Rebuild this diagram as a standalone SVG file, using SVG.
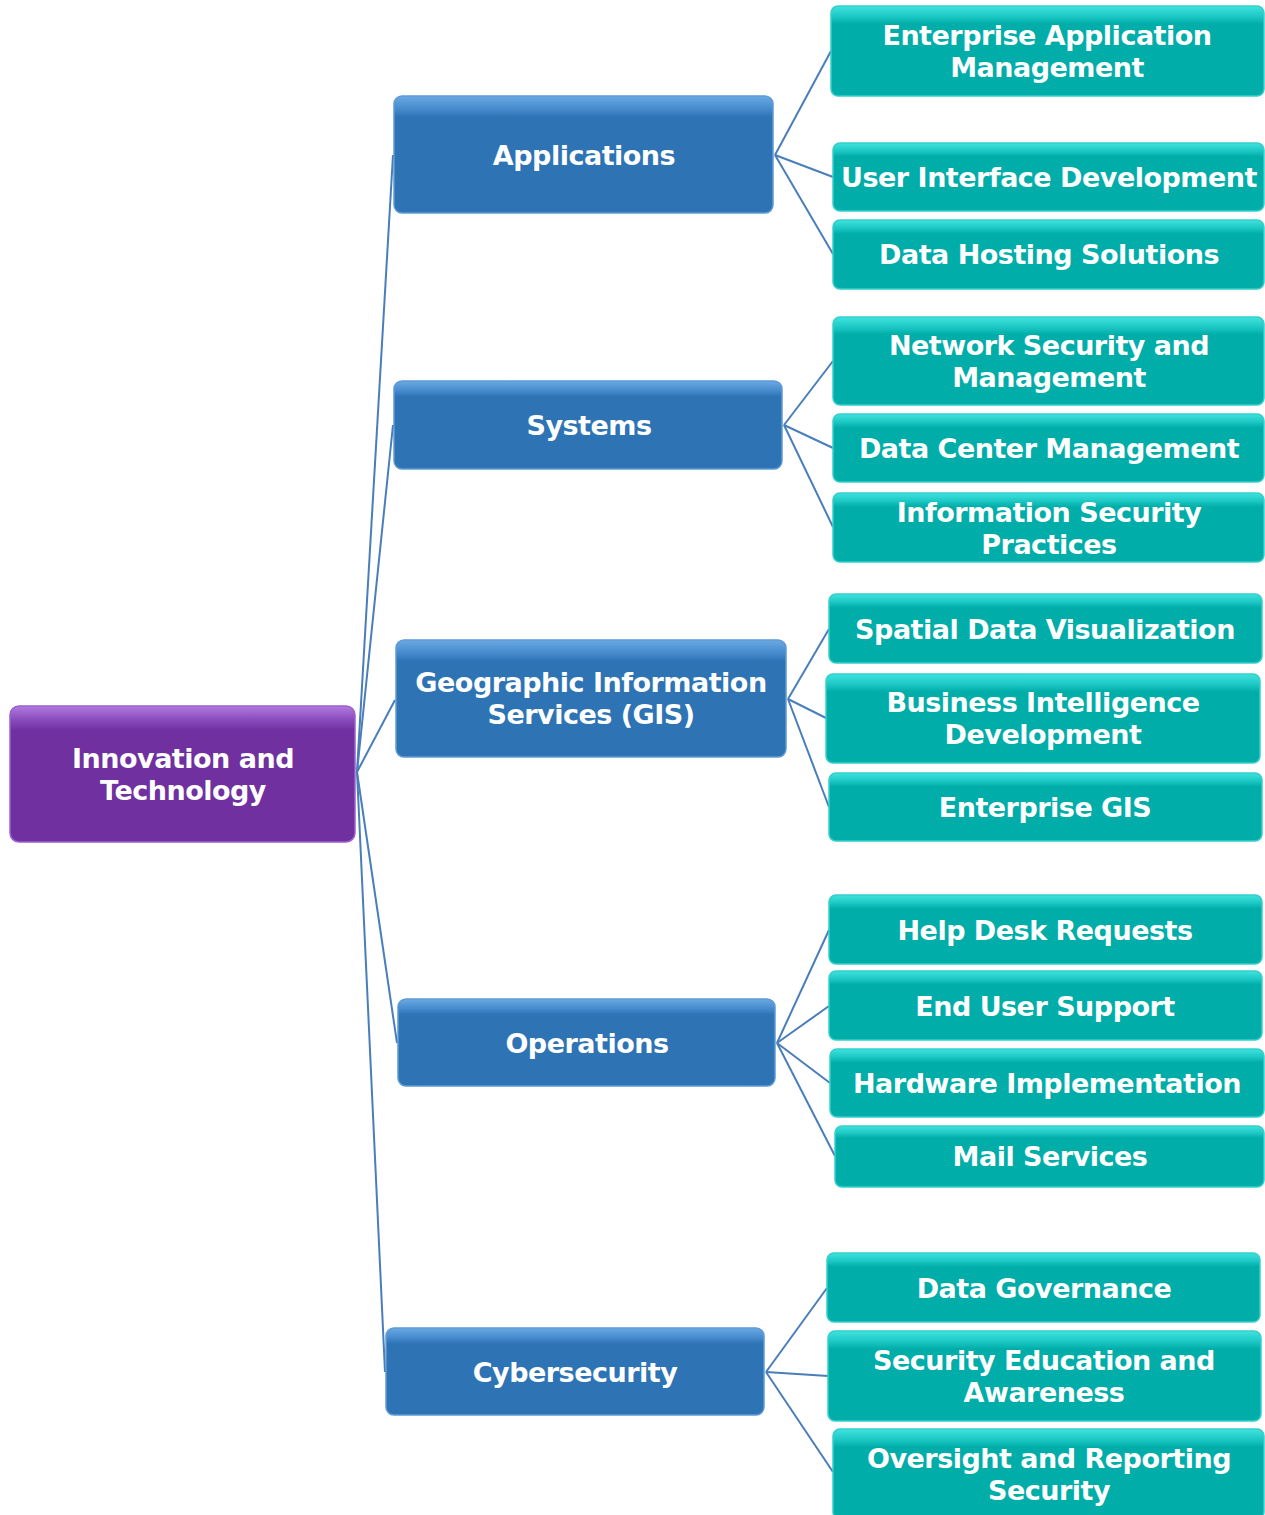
<svg xmlns="http://www.w3.org/2000/svg" width="1265" height="1515" viewBox="0 0 1265 1515">
<defs>
<linearGradient id="gTeal" x1="0" y1="0" x2="0" y2="1">
<stop offset="0" stop-color="#3fe3df"/><stop offset="0.12" stop-color="#1cc7c3"/><stop offset="0.2" stop-color="#00ADA9"/><stop offset="1" stop-color="#00ADA9"/>
</linearGradient>
<linearGradient id="gBlue" x1="0" y1="0" x2="0" y2="1">
<stop offset="0" stop-color="#6aa9e2"/><stop offset="0.1" stop-color="#4a8ed0"/><stop offset="0.18" stop-color="#2E74B5"/><stop offset="1" stop-color="#2E74B5"/>
</linearGradient>
<linearGradient id="gPurple" x1="0" y1="0" x2="0" y2="1">
<stop offset="0" stop-color="#b27ae0"/><stop offset="0.1" stop-color="#8a4cbd"/><stop offset="0.18" stop-color="#7030A0"/><stop offset="1" stop-color="#7030A0"/>
</linearGradient>
<style>
.t{font-family:"DejaVu Sans",Verdana,sans-serif;font-weight:bold;font-size:27px;letter-spacing:-0.5px;fill:#fff;text-anchor:middle}
.teal{fill:url(#gTeal);stroke:#35cfcb;stroke-width:1.5}
.blue{fill:url(#gBlue);stroke:#5d9ad6;stroke-width:1.5}
.purple{fill:url(#gPurple);stroke:#9b62cc;stroke-width:1.5}
.c{stroke:#4A7EBB;stroke-width:2;fill:none}
</style>
</defs>
<rect width="1265" height="1515" fill="#fff"/>
<g id="connectors">
<line class="c" x1="357" y1="772" x2="393" y2="155"/>
<line class="c" x1="357" y1="772" x2="393" y2="425"/>
<line class="c" x1="357" y1="772" x2="395" y2="700"/>
<line class="c" x1="357" y1="772" x2="397" y2="1043"/>
<line class="c" x1="357" y1="772" x2="385" y2="1372"/>
<line class="c" x1="775" y1="155" x2="831" y2="51"/>
<line class="c" x1="775" y1="155" x2="833" y2="177"/>
<line class="c" x1="775" y1="155" x2="833" y2="254"/>
<line class="c" x1="784" y1="425" x2="833" y2="361"/>
<line class="c" x1="784" y1="425" x2="833" y2="448"/>
<line class="c" x1="784" y1="425" x2="833" y2="527"/>
<line class="c" x1="788" y1="699" x2="829" y2="629"/>
<line class="c" x1="788" y1="699" x2="826" y2="718"/>
<line class="c" x1="788" y1="699" x2="829" y2="807"/>
<line class="c" x1="777" y1="1043" x2="829" y2="930"/>
<line class="c" x1="777" y1="1043" x2="829" y2="1006"/>
<line class="c" x1="777" y1="1043" x2="830" y2="1083"/>
<line class="c" x1="777" y1="1043" x2="835" y2="1156"/>
<line class="c" x1="766" y1="1372" x2="827" y2="1288"/>
<line class="c" x1="766" y1="1372" x2="828" y2="1376"/>
<line class="c" x1="766" y1="1372" x2="833" y2="1472"/>
</g>
<g id="root"><rect class="purple" x="10" y="706" width="345" height="136" rx="9"/><text class="t" x="183"><tspan x="183" y="768">Innovation and</tspan><tspan x="183" y="800">Technology</tspan></text></g>
<g id="applications"><rect class="blue" x="394" y="96" width="379" height="117" rx="8"/><text class="t" x="584" y="165">Applications</text></g>
<g id="systems"><rect class="blue" x="394" y="381" width="388" height="88" rx="8"/><text class="t" x="589" y="435">Systems</text></g>
<g id="gis"><rect class="blue" x="396" y="640" width="390" height="117" rx="8"/><text class="t"><tspan x="591" y="692">Geographic Information</tspan><tspan x="591" y="724">Services (GIS)</tspan></text></g>
<g id="operations"><rect class="blue" x="398" y="999" width="377" height="87" rx="8"/><text class="t" x="587" y="1053">Operations</text></g>
<g id="cybersecurity"><rect class="blue" x="386" y="1328" width="378" height="87" rx="8"/><text class="t" x="575" y="1382">Cybersecurity</text></g>
<g id="eam"><rect class="teal" x="831" y="6" width="433" height="90" rx="7"/><text class="t"><tspan x="1047" y="45">Enterprise Application</tspan><tspan x="1047" y="77">Management</tspan></text></g>
<g id="uid"><rect class="teal" x="833" y="143" width="431" height="68" rx="7"/><text class="t" x="1049" y="187">User Interface Development</text></g>
<g id="dhs"><rect class="teal" x="833" y="220" width="431" height="69" rx="7"/><text class="t" x="1049" y="264">Data Hosting Solutions</text></g>
<g id="nsm"><rect class="teal" x="833" y="317" width="431" height="88" rx="7"/><text class="t"><tspan x="1049" y="355">Network Security and</tspan><tspan x="1049" y="387">Management</tspan></text></g>
<g id="dcm"><rect class="teal" x="833" y="414" width="431" height="68" rx="7"/><text class="t" x="1049" y="458">Data Center Management</text></g>
<g id="isp"><rect class="teal" x="833" y="493" width="431" height="69" rx="7"/><text class="t"><tspan x="1049" y="522">Information Security</tspan><tspan x="1049" y="554">Practices</tspan></text></g>
<g id="sdv"><rect class="teal" x="829" y="594" width="433" height="69" rx="7"/><text class="t" x="1045" y="639">Spatial Data Visualization</text></g>
<g id="bid"><rect class="teal" x="826" y="674" width="434" height="89" rx="7"/><text class="t"><tspan x="1043" y="712">Business Intelligence</tspan><tspan x="1043" y="744">Development</tspan></text></g>
<g id="egis"><rect class="teal" x="829" y="773" width="433" height="68" rx="7"/><text class="t" x="1045" y="817">Enterprise GIS</text></g>
<g id="hdr"><rect class="teal" x="829" y="895" width="433" height="69" rx="7"/><text class="t" x="1045" y="940">Help Desk Requests</text></g>
<g id="eus"><rect class="teal" x="829" y="971" width="433" height="69" rx="7"/><text class="t" x="1045" y="1016">End User Support</text></g>
<g id="hi"><rect class="teal" x="830" y="1049" width="434" height="68" rx="7"/><text class="t" x="1047" y="1093">Hardware Implementation</text></g>
<g id="ms"><rect class="teal" x="835" y="1126" width="429" height="61" rx="7"/><text class="t" x="1050" y="1166">Mail Services</text></g>
<g id="dg"><rect class="teal" x="827" y="1253" width="433" height="69" rx="7"/><text class="t" x="1044" y="1298">Data Governance</text></g>
<g id="sea"><rect class="teal" x="828" y="1331" width="433" height="90" rx="7"/><text class="t"><tspan x="1044" y="1370">Security Education and</tspan><tspan x="1044" y="1402">Awareness</tspan></text></g>
<g id="ors"><rect class="teal" x="833" y="1429" width="431" height="90" rx="7"/><text class="t"><tspan x="1049" y="1468">Oversight and Reporting</tspan><tspan x="1049" y="1500">Security</tspan></text></g>
</svg>
